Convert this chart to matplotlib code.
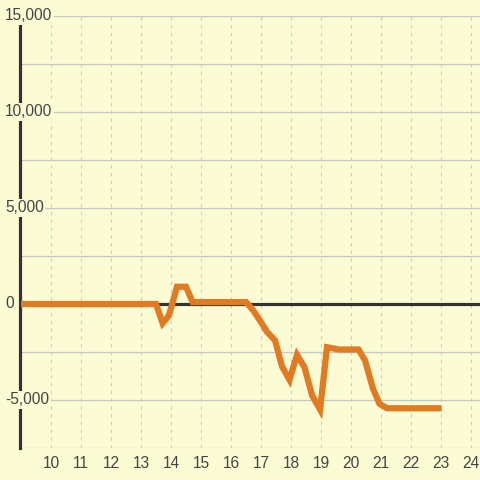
import matplotlib
matplotlib.use('Agg')
import matplotlib.pyplot as plt
import matplotlib.transforms as mtransforms

# values
hours = [9.0, 13.5, 13.72, 13.93, 14.2, 14.5, 14.72, 16.5, 16.75, 17.0, 17.2,
         17.47, 17.7, 17.95, 18.2, 18.45, 18.7, 18.97, 19.2, 19.6, 20.25,
         20.47, 20.73, 20.95, 21.2, 23.02]
balance = [0, 0, -1000, -600, 900, 900, 100, 100, -350, -950, -1450,
           -1900, -3250, -3950, -2650, -3300, -4750, -5500, -2250, -2370, -2370,
           -2950, -4400, -5200, -5430, -5430]
x_ticks = list(range(10, 25))
y_labels = [15000, 10000, 5000, 0, -5000]
y_grid = [-7500, -5000, -2500, 0, 2500, 5000, 7500, 10000, 12500, 15000]

bg = '#fcfcd4'
text_col = '#444444'
grid_col = '#c6c6c6'

plt.rcParams['font.family'] = ['Liberation Sans', 'DejaVu Sans']

fig = plt.figure(figsize=(4.8, 4.8), dpi=100, facecolor=bg)
ax = fig.add_axes([20/480, 32/480, 460/480, 432/480], facecolor=bg)

ax.set_xlim(8.967, 24.3)
ax.set_ylim(-7500, 15000)

# grid
for y in y_grid:
    ax.axhline(y, color=grid_col, lw=0.9, zorder=1)
for x in x_ticks:
    ax.axvline(x, color='#cbcbc4', lw=0.8, ls=(0, (3, 4)), zorder=1)

# zero line
ax.axhline(0, color='#333333', lw=2.3, zorder=2)

ax.plot(hours, balance, color='#e07b24', lw=4.5, solid_capstyle='butt',
        solid_joinstyle='miter', zorder=3)

for s in ['top', 'right', 'bottom']:
    ax.spines[s].set_visible(False)
ax.spines['left'].set_color('#333333')
ax.spines['left'].set_linewidth(2.3)
ax.spines['left'].set_zorder(2.5)

ax.set_yticks([])
ax.set_xticks(x_ticks)
ax.set_xticklabels([str(v) for v in x_ticks])
ax.tick_params(axis='x', length=0, pad=6, labelsize=11.2, labelcolor=text_col)

# y labels drawn over the axis with a background box
trans = mtransforms.blended_transform_factory(fig.transFigure, ax.transData)
for v in y_labels:
    ax.text(5/480, v, f'{v:,}', transform=trans, ha='left', va='center',
            fontsize=11.2, color=text_col, zorder=5, clip_on=False,
            bbox=dict(boxstyle='square,pad=0.1', fc=bg, ec='none'))

fig.savefig('out.png', dpi=100, facecolor=bg)
